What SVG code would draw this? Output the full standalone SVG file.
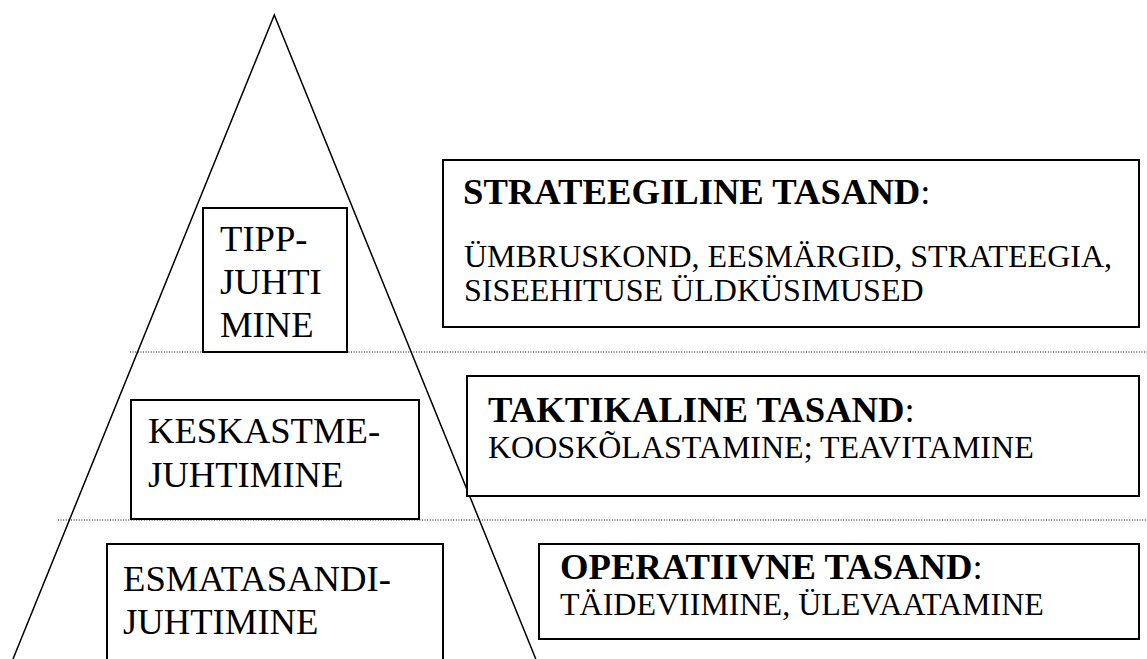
<svg xmlns="http://www.w3.org/2000/svg" width="1147" height="659" viewBox="0 0 1147 659">
  <style>
    .box { fill: #fff; stroke: #000; stroke-width: 2; }
    .edge { fill: none; stroke: #000; stroke-width: 1.5; }
    .sep { fill: none; stroke: #000; stroke-width: 1; stroke-dasharray: 1 1.6; }
    text { font-family: "Liberation Serif", "Times New Roman", serif; fill: #000; }
    .node { font-size: 36.67px; }
    .head { font-size: 36.67px; }
    .head tspan.b { font-weight: bold; }
    .body { font-size: 32px; }
  </style>
  <rect x="0" y="0" width="1147" height="659" fill="#fff"/>

  <g id="connectors">
    <polyline class="edge" points="13,659 274.3,15 535.8,659"/>
    <line class="sep" x1="130" y1="352" x2="1147" y2="352"/>
    <line class="sep" x1="58" y1="520" x2="1147" y2="520"/>
  </g>

  <g id="tippjuhtimine">
    <rect class="box" x="203" y="208" width="144" height="144"/>
    <text class="node" x="220" y="251">TIPP-</text>
    <text class="node" x="220" y="294">JUHTI</text>
    <text class="node" x="220" y="337">MINE</text>
  </g>

  <g id="keskastmejuhtimine">
    <rect class="box" x="131" y="400" width="288" height="119"/>
    <text class="node" x="148" y="443">KESKASTME-</text>
    <text class="node" x="148" y="487">JUHTIMINE</text>
  </g>

  <g id="esmatasandijuhtimine">
    <rect class="box" x="107" y="544" width="336" height="130"/>
    <text class="node" x="123" y="591">ESMATASANDI-</text>
    <text class="node" x="123" y="634">JUHTIMINE</text>
  </g>

  <g id="strateegiline">
    <rect class="box" x="443" y="160" width="696" height="167"/>
    <text class="head" x="463" y="204"><tspan class="b">STRATEEGILINE TASAND</tspan>:</text>
    <text class="body" x="464" y="267">ÜMBRUSKOND, EESMÄRGID, STRATEEGIA,</text>
    <text class="body" x="464" y="301">SISEEHITUSE ÜLDKÜSIMUSED</text>
  </g>

  <g id="taktikaline">
    <rect class="box" x="467" y="376" width="672" height="120"/>
    <text class="head" x="488" y="422"><tspan class="b">TAKTIKALINE TASAND</tspan>:</text>
    <text class="body" x="488" y="458">KOOSKÕLASTAMINE; TEAVITAMINE</text>
  </g>

  <g id="operatiivne">
    <rect class="box" x="539" y="544" width="600" height="95"/>
    <text class="head" x="560" y="579"><tspan class="b">OPERATIIVNE TASAND</tspan>:</text>
    <text class="body" x="560" y="615">TÄIDEVIIMINE, ÜLEVAATAMINE</text>
  </g>
</svg>
